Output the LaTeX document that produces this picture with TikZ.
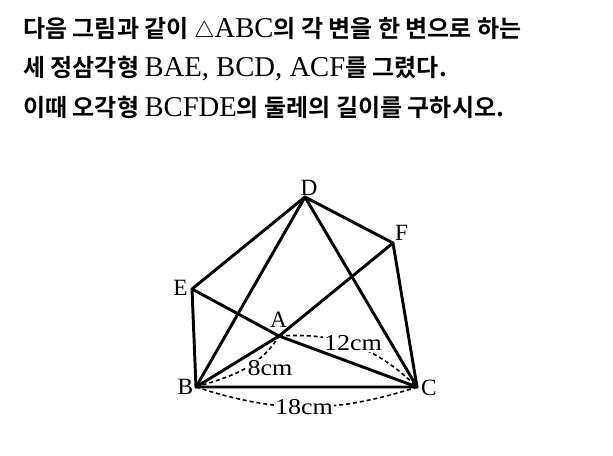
\documentclass[tikz,border=0pt]{standalone}
\usepackage{fontspec}
\setmainfont{Liberation Serif}
\newfontfamily\krfont{Noto Sans CJK KR}[BoldFont={* Bold}]
\newfontfamily\dimfont{Liberation Serif}[FakeStretch=1.15]
\newcommand\ktext[1]{{\krfont\bfseries\fontsize{18}{22}\selectfont #1}}
\newcommand\ltext[1]{{\fontsize{21.5}{22}\selectfont #1}}
\newcommand\tri{{\fontsize{17}{20}\selectfont$\triangle$}}
\begin{document}
\begin{tikzpicture}[x=0.75pt,y=0.75pt,
  line/.style={line width=2.2pt, line cap=round, line join=round},
  dim/.style={line width=1.2pt, dash pattern=on 3pt off 2.2pt},
  ptlabel/.style={font=\fontsize{17.5}{18}\selectfont, inner sep=0pt},
  dimlabel/.style={font=\dimfont\fontsize{17}{18}\selectfont, inner sep=1pt, fill=white},
  txt/.style={anchor=base west, inner sep=0pt}]
\useasboundingbox (0,0) rectangle (613,-455);
% title text
\node[txt] (t1) at (23,-37) {\ktext{다음 그림과 같이 }\ltext{\tri ABC}\ktext{의 각 변을 한 변으로 하는}};
\node[txt] (t2) at (23,-76.5) {\ktext{세 정삼각형 }\ltext{BAE, BCD, ACF}\ktext{를 그렸다.}};
\node[txt] (t3) at (23,-116.5) {\ktext{이때 오각형 }\ltext{BCFDE}\ktext{의 둘레의 길이를 구하시오.}};
% points
\coordinate (D) at (305,-197);
\coordinate (F) at (393,-243);
\coordinate (E) at (192,-289);
\coordinate (A) at (279,-336);
\coordinate (B) at (196,-387);
\coordinate (C) at (417,-387);
% dimension arcs
\draw[dim] (B) to[bend right=18] (C);
\draw[dim] (A) to[bend left=24] (C);
\draw[dim] (B) to[out=17,in=238] (A);
\node[dimlabel] (l18) at (304,-407) {18cm};
\node[dimlabel] (l12) at (353,-343) {12cm};
\node[dimlabel] (l8) at (270,-368) {8cm};
% figure
\draw[line] (B) -- (C) -- (F) -- (D) -- (E) -- cycle;
\draw[line] (B) -- (A) -- (C);
\draw[line] (E) -- (A);
\draw[line] (B) -- (D) -- (C);
\draw[line] (A) -- (F);
% point labels
\node[ptlabel] (lD) at (309,-187.5) {D};
\node[ptlabel] (lF) at (401.5,-232.5) {F};
\node[ptlabel] (lE) at (180.5,-287.5) {E};
\node[ptlabel] (lA) at (278.5,-319.5) {A};
\node[ptlabel] (lB) at (185.5,-386.5) {B};
\node[ptlabel] (lC) at (429,-387.5) {C};
\end{tikzpicture}
\end{document}
